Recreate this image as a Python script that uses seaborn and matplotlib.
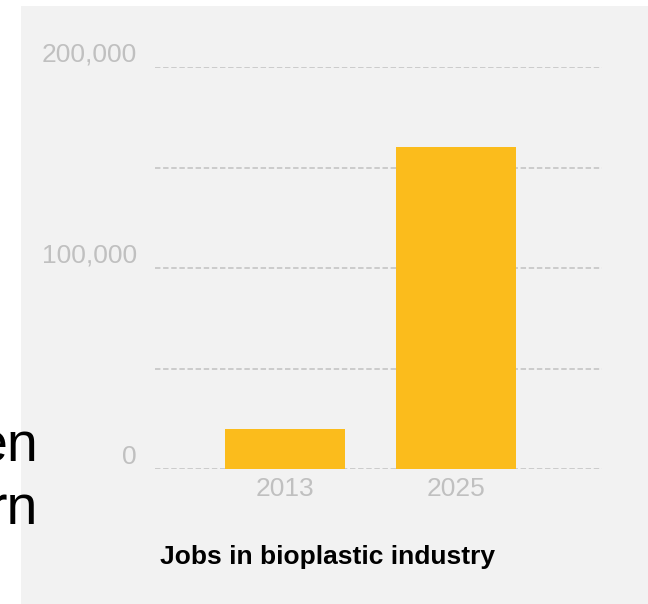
import numpy as np
import pandas as pd
import matplotlib.pyplot as plt
from matplotlib.patches import Rectangle
from matplotlib.transforms import ScaledTranslation
import seaborn as sns

# datos
years = ["2013", "2025"]
jobs = [20000, 160000]
ytick_vals = [0, 50000, 100000, 150000, 200000]
ytick_txt = ["0", "", "100,000", "", "200,000"]

sns.set_style("white")
plt.rcParams['font.family'] = ['Liberation Sans', 'DejaVu Sans']

fig = plt.figure(figsize=(6.48, 6.04), dpi=100)
fig.patch.set_facecolor("white")
# panel gris de fondo
fig.patches.append(Rectangle((21/648, 0), 1 - 21/648, 1 - 6/604, transform=fig.transFigure,
                             facecolor="#f2f2f2", edgecolor="none", zorder=-5))

ax = fig.add_axes([155/648, 1 - 469/604, (602 - 155)/648, (469 - 67)/604])
ax.set_zorder(2)
ax.set_facecolor("none")

df = pd.DataFrame({"year": years, "jobs": jobs})
sns.barplot(data=df, x="year", y="jobs", color="#fbbc1c", width=0.7, saturation=1,
            linewidth=0, ax=ax, zorder=3)

ax.set_ylim(0, 200000)
ax.set_xlim(-0.76, 1.854)
ax.set_yticks(ytick_vals)
ax.set_yticklabels(ytick_txt)
ax.yaxis.grid(True, color="#c8c8c8", linestyle=(0, (3, 1.5)), linewidth=1.3, zorder=1)
ax.set_axisbelow(True)
ax.tick_params(axis="y", length=0, pad=13, labelsize=19, labelcolor="#c0c0c0")
ax.tick_params(axis="x", length=0, pad=6, labelsize=19, labelcolor="#c0c0c0")
# etiquetas del eje y un poco por encima de la linea
off = ScaledTranslation(0, 15/100, fig.dpi_scale_trans)
for lab in ax.get_yticklabels():
    lab.set_transform(lab.get_transform() + off)
for s in ax.spines.values():
    s.set_visible(False)
ax.set_xlabel("")
ax.set_ylabel("")

fig.text(327/648, 1 - 557/604, "Jobs in bioplastic industry", ha="center", va="center",
         fontsize=19, fontweight="bold", color="black", zorder=3)

# texto cortado a la izquierda
fig.text(38/648, 1 - 462/604, "en", ha="right", va="baseline", fontsize=40, color="black", zorder=3)
fig.text(38/648, 1 - 524/604, "rn", ha="right", va="baseline", fontsize=40, color="black", zorder=3)

fig.savefig("out.png", dpi=100)
